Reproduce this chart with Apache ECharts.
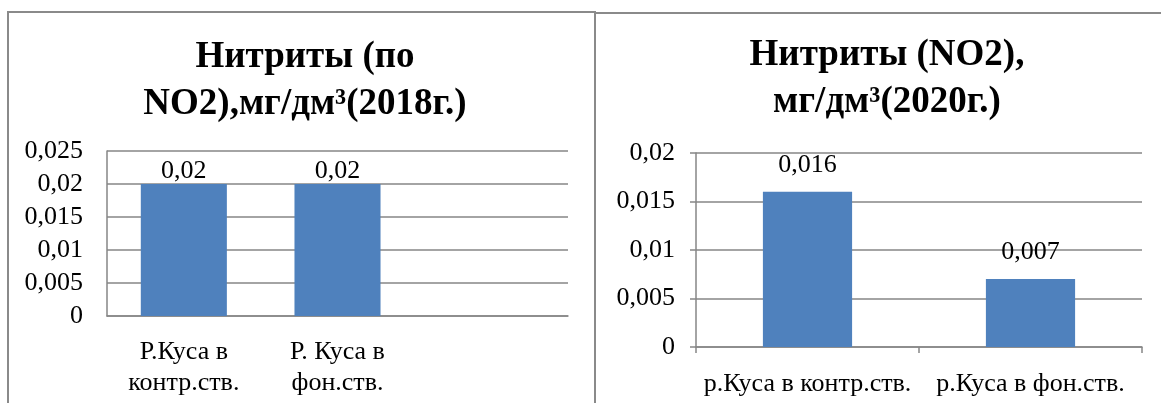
<!DOCTYPE html>
<html>
<head>
<meta charset="utf-8">
<script src="https://cdn.jsdelivr.net/npm/echarts@6/dist/echarts.min.js"></script>
<style>
  html, body { margin: 0; padding: 0; background: #ffffff; }
  #chart { width: 1161px; height: 403px; }
</style>
</head>
<body>
<div id="chart"></div>
<script>
// Nitrite (NO2) concentrations, mg/dm³ — 2018 and 2020 sampling sites
const titles2018 = 'Нитриты (по\nNO2),мг/дм³(2018г.)';
const titles2020 = 'Нитриты (NO2),\nмг/дм³(2020г.)';

const categories2018 = ['Р.Куса в\nконтр.ств.', 'Р. Куса в\nфон.ств.', ''];
const values2018 = [0.02, 0.02, null];

const categories2020 = ['р.Куса в контр.ств.', 'р.Куса в фон.ств.'];
const values2020 = [0.016, 0.007];

const serif = 'Liberation Serif';
const barColor = '#4F81BD';
const lineGray = '#868686';

// decimal comma formatting
function fmt(v) {
  return String(parseFloat(Number(v).toFixed(4))).replace('.', ',');
}

const chart = echarts.init(document.getElementById('chart'), null, { renderer: 'canvas' });

const axisText = { color: '#000', fontFamily: serif, fontSize: 26 };
const titleText = { fontFamily: serif, fontWeight: 'bold', fontSize: 37, lineHeight: 47, color: '#000' };

chart.setOption({
  animation: false,
  backgroundColor: '#ffffff',
  graphic: [
    { type: 'rect', shape: { x: 8, y: 12, width: 587, height: 500 },
      style: { fill: 'none', stroke: '#8a8a8a', lineWidth: 2 }, z: 0 },
    { type: 'rect', shape: { x: 595, y: 13, width: 620, height: 500 },
      style: { fill: 'none', stroke: '#8a8a8a', lineWidth: 2 }, z: 0 }
  ],
  title: [
    { text: titles2018, left: 300, top: 29, textAlign: 'center', textStyle: titleText },
    { text: titles2020, left: 882, top: 27, textAlign: 'center', textStyle: titleText }
  ],
  grid: [
    { left: 107, top: 151, width: 461, height: 165 },
    { left: 696, top: 153, width: 446, height: 194 }
  ],
  xAxis: [
    { type: 'category', gridIndex: 0, data: categories2018,
      axisLine: { lineStyle: { color: lineGray, width: 1.5 } },
      axisTick: { show: false },
      axisLabel: Object.assign({ margin: 21, lineHeight: 31, interval: 0 }, axisText) },
    { type: 'category', gridIndex: 1, data: categories2020,
      axisLine: { lineStyle: { color: lineGray, width: 1.5 } },
      axisTick: { show: true, length: 6, lineStyle: { color: lineGray, width: 1.5 } },
      axisLabel: Object.assign({ margin: 24, interval: 0 }, axisText) }
  ],
  yAxis: [
    { type: 'value', gridIndex: 0, min: 0, max: 0.025, interval: 0.005,
      axisLine: { show: true, lineStyle: { color: lineGray, width: 1.5 } },
      axisTick: { show: false },
      splitLine: { lineStyle: { color: lineGray, width: 1.5 } },
      axisLabel: Object.assign({ margin: 24, formatter: fmt }, axisText) },
    { type: 'value', gridIndex: 1, min: 0, max: 0.02, interval: 0.005,
      axisLine: { show: true, lineStyle: { color: lineGray, width: 1.5 } },
      axisTick: { show: true, length: 6, lineStyle: { color: lineGray, width: 1.5 } },
      splitLine: { lineStyle: { color: lineGray, width: 1.5 } },
      axisLabel: Object.assign({ margin: 21, formatter: fmt }, axisText) }
  ],
  series: [
    { type: 'bar', xAxisIndex: 0, yAxisIndex: 0, data: values2018,
      barCategoryGap: '44%',
      itemStyle: { color: barColor },
      label: { show: true, position: 'top', distance: 0,
        formatter: p => fmt(p.value), color: '#000', fontFamily: serif, fontSize: 26 } },
    { type: 'bar', xAxisIndex: 1, yAxisIndex: 1, data: values2020,
      barCategoryGap: '60%',
      itemStyle: { color: barColor },
      label: { show: true, position: 'top', distance: 14,
        formatter: p => fmt(p.value), color: '#000', fontFamily: serif, fontSize: 26 } }
  ]
});
</script>
</body>
</html>
